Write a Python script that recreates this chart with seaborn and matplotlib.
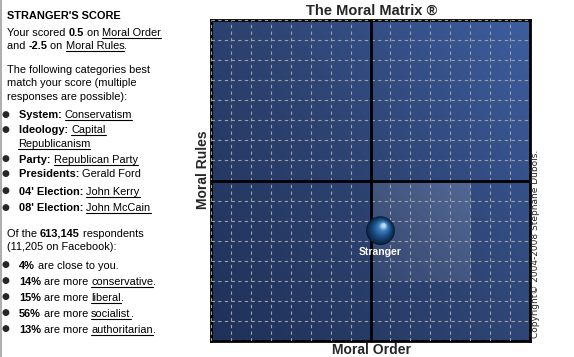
import numpy as np
import matplotlib
matplotlib.use("Agg")
import matplotlib.pyplot as plt
import matplotlib.transforms as mtransforms
from matplotlib.colors import LinearSegmentedColormap
from matplotlib.lines import Line2D
import seaborn as sns

# ---- data ----
player = "Stranger"
moral_order = [0.5]
moral_rules = [-2.5]
axis_limit = 8
close_zone = [0, 5, -5, 0]  # x0, x1, y0, y1

category_names = ["System:", "Ideology:", "Party:", "Presidents:", "04' Election:", "08' Election:"]
category_matches = ["Conservatism", "Capital|Republicanism", "Republican Party", "Gerald Ford",
                    "John Kerry", "John McCain"]
respondents = "613,145"
facebook_respondents = "11,205"
share_values = ["4%", "14%", "15%", "56%", "13%"]
share_groups = ["", "conservative", "liberal", "socialist", "authoritarian"]

W, H = 574, 357
sns.set_theme(style="white")
plt.rcParams["font.family"] = ["Liberation Sans", "DejaVu Sans"]

fig = plt.figure(figsize=(W / 100, H / 100), dpi=100)
fig.patch.set_facecolor("white")
ax = fig.add_axes([211 / W, 1 - 341 / H, 319 / W, 321 / H])

# background gradient
bg = LinearSegmentedColormap.from_list("bg", ["#1f3159", "#2d4372", "#3d5d9e"])
gx, gy = np.meshgrid(np.linspace(0, 1, 200), np.linspace(0, 1, 200))
ax.imshow(0.55 * gx + 0.45 * gy, cmap=bg, origin="lower", aspect="auto",
          extent=[-axis_limit, axis_limit, -axis_limit, axis_limit], zorder=0)

# lighter zone around the score
zx, zy = np.meshgrid(np.linspace(0, 1, 100), np.linspace(0, 1, 100))
zone = np.ones((100, 100, 4))
zone[..., 3] = 0.05 + 0.11 * (0.5 * zx + 0.5 * zy)
ax.imshow(zone, origin="lower", aspect="auto", extent=close_zone, zorder=1)

ax.set_xlim(-axis_limit, axis_limit)
ax.set_ylim(-axis_limit, axis_limit)
ticks = np.arange(-axis_limit, axis_limit + 1)
ax.set_xticks(ticks)
ax.set_yticks(ticks)
ax.set_xticklabels([])
ax.set_yticklabels([])
ax.tick_params(length=0)
ax.set_axisbelow(False)
ax.grid(True, color="#a0a0a0", lw=0.8, linestyle=(0, (3, 3)))
ax.axhline(0, color="black", lw=2, zorder=3)
ax.axvline(0, color="black", lw=2, zorder=3)
for sp in ax.spines.values():
    sp.set_color("black")
    sp.set_linewidth(2)

# shaded sphere
sns.scatterplot(x=moral_order, y=moral_rules, s=430, color="#0a1a33", edgecolor="none",
                ax=ax, zorder=5, legend=False)
ball = LinearSegmentedColormap.from_list("ball", ["#0c2545", "#1b4e86", "#3f7fbf", "#e6f7ff"])
n = 14
for i in range(1, n):
    f = i / n
    off = mtransforms.ScaledTranslation(3.5 * f / 100, 5.5 * f / 100, fig.dpi_scale_trans)
    ax.scatter(moral_order, moral_rules, s=430 * (1 - 0.92 * f) ** 2, color=ball(f ** 1.2),
               edgecolor="none", transform=ax.transData + off, zorder=5 + i)
lab_off = mtransforms.ScaledTranslation(0, -21 / 100, fig.dpi_scale_trans)
ax.text(moral_order[0], moral_rules[0], player, color="white", fontsize=7.5, fontweight="bold",
        ha="center", va="center", transform=ax.transData + lab_off, zorder=30)

# titles
fig.text(372 / W, 1 - 11 / H, "The Moral Matrix ®", ha="center", va="center",
         fontsize=10.5, fontweight="bold")
fig.text(372 / W, 1 - 350 / H, "Moral Order", ha="center", va="center",
         fontsize=10, fontweight="bold")
fig.text(203 / W, 1 - 170 / H, "Moral Rules", ha="center", va="center", rotation=90,
         fontsize=10, fontweight="bold")
fig.text(536 / W, 1 - 244 / H, "Copyright© 2004-2008 Stephane Dubois.", ha="center",
         va="center", rotation=90, fontsize=6.5, family="DejaVu Sans")

fig.add_artist(Line2D([1 / W, 1 / W], [0, 1], color="#a0a0a0", lw=1.2))

# ---- left text panel ----
renderer = fig.canvas.get_renderer()
ident = mtransforms.IdentityTransform()
FS = 7.9


def text_width(s, bold):
    weight = "bold" if bold else "normal"
    t1 = fig.text(0, 0, "X" + s + "X", fontsize=FS, fontweight=weight, transform=ident)
    t2 = fig.text(0, 0, "XX", fontsize=FS, fontweight=weight, transform=ident)
    w = t1.get_window_extent(renderer).width - t2.get_window_extent(renderer).width
    t1.remove()
    t2.remove()
    return w


def draw_runs(x, y, runs, bullet=False):
    if bullet:
        fig.text(5 / W, 1 - (y - 4) / H, "●", fontsize=6.5, ha="center", va="center",
                 family="DejaVu Sans")
    for s, style in runs:
        bold = "b" in style
        fig.text(x, H - y, s, fontsize=FS, fontweight="bold" if bold else "normal",
                 va="baseline", ha="left", transform=ident, color="black")
        w = text_width(s, bold)
        if "u" in style:
            fig.add_artist(Line2D([x, x + w], [H - y - 2, H - y - 2], transform=ident,
                                  color="black", lw=0.8))
        x += w


draw_runs(7, 19, [(player.upper() + "'S SCORE", "b")])
draw_runs(7, 36, [("Your scored ", ""), (str(moral_order[0]), "b"), (" on ", ""), ("Moral Order", "u")])
draw_runs(7, 49, [("and ", ""), (str(moral_rules[0]), "b"), (" on ", ""), ("Moral Rules", "u"), (".", "")])
draw_runs(7, 73, [("The following categories best", "")])
draw_runs(7, 86, [("match your score (multiple", "")])
draw_runs(7, 100, [("responses are possible):", "")])

cat_y = [118, 133, 163, 177, 195, 211]
for name, match, y in zip(category_names, category_matches, cat_y):
    parts = match.split("|")
    style = "" if name == "Presidents:" else "u"
    draw_runs(19, y, [(name + " ", "b"), (parts[0], style)], bullet=True)
    if len(parts) > 1:
        draw_runs(18, y + 14, [(parts[1], style)])

draw_runs(7, 237, [("Of the ", ""), (respondents, "b"), (" respondents", "")])
draw_runs(7, 250, [("(" + facebook_respondents + " on Facebook):", "")])
share_y = [269, 285, 301, 317, 333]
for val, grp, y in zip(share_values, share_groups, share_y):
    if grp:
        runs = [(val, "b"), (" are more ", ""), (grp, "u"), (".", "")]
    else:
        runs = [(val, "b"), (" are close to you.", "")]
    draw_runs(19, y, runs, bullet=True)

fig.savefig("out.png", dpi=100)
